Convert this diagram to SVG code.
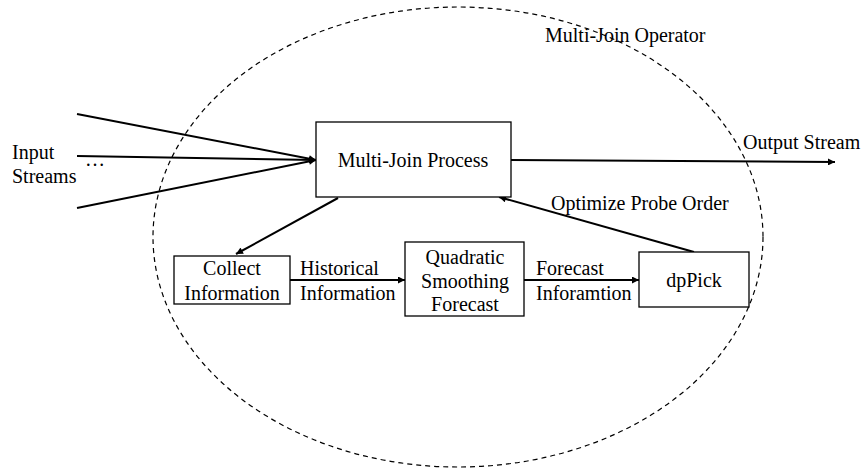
<svg xmlns="http://www.w3.org/2000/svg" width="865" height="468" viewBox="0 0 865 468" font-family="'Liberation Serif', 'DejaVu Serif', serif">
<defs>
<marker id="ah" viewBox="0 0 10 10" refX="10" refY="5" markerWidth="9" markerHeight="7" markerUnits="userSpaceOnUse" orient="auto">
<path d="M0,0 L10,5 L0,10 Z" fill="#000"/>
</marker>
</defs>
<style>
text{font-family:'Liberation Serif','DejaVu Serif',serif;font-size:20px;fill:#000}
.c{text-anchor:middle}
.box{fill:#fff;stroke:#000;stroke-width:1.3}
.ln{stroke:#000;stroke-width:2;fill:none}
</style>
<g id="operator">
<ellipse cx="458" cy="237" rx="305" ry="230" fill="none" stroke="#000" stroke-width="1.2" stroke-dasharray="5,4"/>
<text x="545" y="42">Multi-Join Operator</text>
</g>
<g id="connectors">
<line class="ln" x1="77" y1="114" x2="316" y2="160" marker-end="url(#ah)"/>
<line class="ln" x1="77" y1="156" x2="316" y2="160" marker-end="url(#ah)"/>
<line class="ln" x1="77" y1="208" x2="316" y2="160" marker-end="url(#ah)"/>
<line class="ln" x1="511" y1="160" x2="835" y2="162" marker-end="url(#ah)"/>
<line class="ln" x1="338" y1="198" x2="236" y2="254" marker-end="url(#ah)"/>
<line class="ln" x1="290" y1="280" x2="405" y2="280" marker-end="url(#ah)"/>
<line class="ln" x1="524" y1="280" x2="639" y2="280" marker-end="url(#ah)"/>
<line class="ln" x1="694" y1="252" x2="499" y2="197" marker-end="url(#ah)"/>
<text x="12" y="159">Input</text>
<text x="12" y="183">Streams</text>
<text x="85" y="166">…</text>
<text x="743" y="149">Output Stream</text>
<text x="300" y="275">Historical</text>
<text x="300" y="300">Information</text>
<text x="536" y="275">Forecast</text>
<text x="536" y="300">Inforamtion</text>
<text x="551" y="210">Optimize Probe Order</text>
</g>
<g id="multijoin">
<rect class="box" x="316" y="122" width="195" height="75"/>
<text class="c" x="413" y="167">Multi-Join Process</text>
</g>
<g id="collect">
<rect class="box" x="174" y="256" width="116" height="48"/>
<text class="c" x="232" y="275">Collect</text>
<text class="c" x="232" y="300">Information</text>
</g>
<g id="quadratic">
<rect class="box" x="405" y="242" width="119" height="74"/>
<text class="c" x="465" y="264">Quadratic</text>
<text class="c" x="465" y="288">Smoothing</text>
<text class="c" x="465" y="311">Forecast</text>
</g>
<g id="dppick">
<rect class="box" x="639" y="252" width="110" height="55"/>
<text class="c" x="694" y="287">dpPick</text>
</g>
</svg>
